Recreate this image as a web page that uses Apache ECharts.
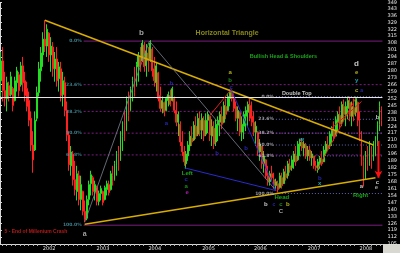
<!DOCTYPE html>
<html><head><meta charset="utf-8">
<script src="https://cdn.jsdelivr.net/npm/echarts/dist/echarts.min.js"></script>
<style>html,body{margin:0;padding:0;background:#000;overflow:hidden}#c{width:400px;height:253px}</style>
</head><body><div id="c"></div>
<script>
const yearLabels = ['2002','2003','2004','2005','2006','2007','2008'];
const yearIdx = [21,48,74,101,127,154,180];

const open = [270,290,260,252,265,256,262,250,268,276,
266,285,270,262,250,232,205,200,232,258,
280,296,312,305,318,296,304,282,292,272,
282,256,268,240,215,184,196,170,158,174,
150,158,138,131,150,166,172,158,162,148,
156,158,150,160,165,160,174,170,184,196,
190,214,225,220,250,240,260,270,265,284,
295,290,306,285,298,292,302,282,268,278,
255,242,248,240,250,255,250,252,240,228,
226,208,198,186,194,204,212,210,224,216,
230,220,230,216,230,234,214,222,208,225,
228,234,228,244,240,252,258,252,244,232,
238,218,224,234,238,245,234,228,218,218,
198,204,186,190,174,168,176,170,164,166,
162,172,166,176,174,184,182,188,194,190,
204,208,202,204,194,200,192,194,184,180,
186,190,188,198,205,204,214,220,214,228,
235,228,244,236,242,248,234,242,238,248,
232,212,188,170,190,186,200,190,204,210,
226,242];
const close = [290,260,252,268,255,274,245,270,280,260,
285,268,255,244,230,205,190,230,258,282,
298,312,305,322,296,305,282,292,270,284,
255,270,240,215,185,198,170,160,176,150,
165,138,130,150,165,175,158,165,148,156,
161,147,162,166,157,176,168,186,196,184,
215,226,212,250,235,262,270,258,286,296,
284,308,284,300,290,308,280,270,285,252,
242,250,238,252,256,246,262,240,228,236,
208,198,188,196,205,214,208,225,214,232,
220,232,214,230,236,215,224,206,226,230,
236,226,245,236,254,258,252,242,232,240,
218,226,236,240,246,232,228,218,224,198,
206,186,194,174,168,176,172,164,168,160,
174,164,178,172,186,180,190,196,188,206,
208,202,206,194,200,192,196,184,182,188,
192,186,200,206,202,216,220,212,230,236,
226,246,236,244,250,234,244,236,252,230,
214,190,168,192,184,202,188,204,210,226,
244,230];
const high = [299,304,279,274,269,279,264,274,284,279,
289,294,279,269,259,239,219,239,264,289,
304,319,331,327,319,314,309,299,304,289,
289,279,274,249,219,204,199,189,184,179,
174,159,149,154,169,179,174,169,164,159,
164,159,164,169,169,179,184,189,199,204,
219,229,239,254,259,264,274,284,289,299,
304,311,309,307,304,311,304,294,289,279,
264,254,249,254,259,261,264,254,249,239,
229,219,204,199,209,219,224,229,234,237,
239,237,234,237,239,234,231,229,231,234,
239,244,249,252,257,261,261,257,249,244,
239,234,239,244,249,252,249,239,229,219,
211,204,199,191,184,179,184,177,171,169,
177,177,181,184,189,191,194,199,204,209,
211,212,209,207,204,204,199,194,189,191,
194,199,204,209,214,219,224,229,234,239,
244,249,251,249,254,254,249,252,254,249,
239,219,194,199,204,209,204,209,214,229,
249,244];
const low = [254,249,244,239,249,254,239,249,259,254,
264,259,249,239,224,199,177,199,229,254,
269,284,299,294,289,279,274,269,264,259,
249,244,234,209,179,174,164,154,149,144,
139,134,127,129,144,154,154,149,144,144,
149,144,149,154,154,159,164,169,174,179,
189,199,209,219,229,239,249,254,264,269,
279,289,279,274,279,289,274,264,259,249,
239,237,234,239,244,244,249,237,224,214,
204,194,184,181,189,199,204,209,211,214,
214,211,209,214,217,209,204,201,204,209,
214,221,227,231,239,244,249,239,229,219,
214,209,211,219,224,229,224,214,204,194,
189,181,177,171,164,164,169,161,159,157,
161,161,167,169,171,177,179,181,184,189,
194,199,194,191,189,189,184,181,179,177,
181,184,189,194,199,201,204,209,214,219,
221,224,229,224,231,229,224,229,234,224,
209,184,163,174,179,184,181,189,194,204,
219,224];

const fibNames = ['0.0%','23.6%','38.2%','50.0%','61.8%','100.0%'];
const fib1Levels = [310,266,239,217,195,124];
const fib2Levels = [254,231,217,205,194,156];

// [x1, y1, x2, y2, color, width, type]
const trendLines = [
  [22.5,331,187.5,205,'#d8ac00',1.6,'solid'],
  [42.5,125,188.5,172,'#d8ac00',1.6,'solid'],
  [0,253,192,253,'#e8e8e8',1,'solid'],
  [42.5,127,75,310,'#7c8490',0.8,'solid'],
  [75,310,138.5,159,'#7c8490',0.8,'solid'],
  [92.5,182,138.5,159,'#2a2ad0',1,'solid'],
  [105,234,116,261,'#e02020',1,'solid'],
  [116,261,138.5,159,'#2a2ad0',1,'solid'],
  [159,179,178.5,252,'#e02020',1,'solid'],
  [166,221,181.5,249,'#e02020',1,'solid']
];

const notes = [
  [114,318,'Horizontal Triangle','#a8a820',7],
  [142.25,294,'Bullish Head & Shoulders','#22cc22',5.5],
  [149,257,'Double Top','#f0f0f0',5.5],
  [18,117,'5 - End of Millenium Crash','#e02020',5],
  [42.5,115,'a','#c8c8c8',7],
  [71,318,'b','#c8c8c8',8],
  [83.5,227,'a','#3030e0',6],
  [86,267,'b','#3030e0',6],
  [94,176,'Left','#22cc22',6],
  [93.5,170,'c','#3030e0',6],
  [93.5,163,'a','#22aa22',6],
  [94,157,'e','#d020d0',6],
  [115.5,278,'a','#d8d820',6],
  [115.5,270,'b','#22aa22',6],
  [116,263,'c','#3030e0',6],
  [109,197,'b','#3030e0',6],
  [123.5,202,'b','#3030e0',6],
  [179,287,'d','#f0f0f0',8],
  [179,278,'e','#d8d820',6],
  [179,270,'y','#20c8d8',6],
  [179,260,'c','#d8d820',6],
  [181.5,260,'a','#3030e0',5],
  [189.5,233,'b','#f0f0f0',6],
  [151.5,211,'w','#20c8d8',6],
  [160.5,171,'b','#3030e0',6],
  [160.5,166,'x','#20c8d8',6],
  [181.5,163,'a','#f0f0f0',6],
  [181,154,'Right','#22cc22',6],
  [189.5,167,'c','#f0f0f0',6],
  [189,162,'e','#c8c8c8',6],
  [141.5,152,'Head','#22cc22',6],
  [133.5,145,'b','#f0f0f0',6],
  [137.5,145,'c','#3030e0',5],
  [141,145,'c','#22aa22',6],
  [144.5,145,'b','#d8d820',6],
  [141,138,'C','#c8c8c8',6]
];

const arrow = [[190,209],[190,172]];

const cats = open.map((_, i) => i);
const candles = open.map((o, i) => [o, close[i], low[i], high[i]]);

const monthTicks = [];
const allYears = [yearIdx[0] - 26.5].concat(yearIdx, [yearIdx[yearIdx.length-1] + 26.5]);
for (let k = 0; k < allYears.length - 1; k++) {
  const a = allYears[k], b = allYears[k+1];
  for (let m = 1; m < 12; m++) {
    const v = a + (b - a) * m / 12;
    if (v > 0 && v < 192) monthTicks.push(v);
  }
}

const series = [{
  type: 'candlestick',
  xAxisIndex: 0, yAxisIndex: 0,
  data: candles,
  barWidth: '70%',
  itemStyle: {color: '#22dd22', color0: '#ff2020', borderColor: '#22dd22', borderColor0: '#ff2020', borderWidth: 1},
  silent: true, z: 2
}];

function seg(p, color, width, type, z) {
  series.push({type: 'line', xAxisIndex: 1, yAxisIndex: 0, data: p, symbol: 'none', silent: true,
    lineStyle: {color, width, type}, z: z || 3});
}
fib1Levels.forEach((v, i) => seg([[42, v], [192, v]], '#7c1c80', 1, (i === 0 || i === 5) ? 'solid' : [2, 2], 1));
fib2Levels.forEach((v, i) => seg([[138.5, v], [192, v]], '#6464b8', 1, [1, 2], 1));
trendLines.forEach(t => seg([[t[0], t[1]], [t[2], t[3]]], t[4], t[5], t[6], 4));

series.push({type: 'line', xAxisIndex: 1, yAxisIndex: 0, silent: true, z: 5,
  data: [{value: arrow[0], symbol: 'none'}, {value: arrow[1], symbol: 'arrow', symbolSize: [6, 7], symbolRotate: 180}],
  lineStyle: {color: '#ff1010', width: 2}, itemStyle: {color: '#ff1010'}});

const fibLabelData = [];
fib1Levels.forEach((v, i) => fibLabelData.push({value: [41.5, v], t: fibNames[i], c: '#4c9cac'}));
fib2Levels.forEach((v, i) => fibLabelData.push({value: [138, v], t: fibNames[i], c: '#c0c0d0'}));
series.push({type: 'scatter', xAxisIndex: 1, yAxisIndex: 0, symbolSize: 0, silent: true, z: 6,
  data: fibLabelData.map(d => ({value: d.value, t: d.t,
    label: {show: true, position: 'left', distance: 1, formatter: d.t, color: d.c, fontSize: 4.5,
      fontFamily: 'DejaVu Sans', fontWeight: 'bold'}}))});

series.push({type: 'scatter', xAxisIndex: 1, yAxisIndex: 0, symbolSize: 0, silent: true, z: 7,
  data: notes.map(n => ({value: [n[0], n[1]],
    label: {show: true, position: 'inside', formatter: n[2], color: n[3], fontSize: n[4],
      fontFamily: 'Liberation Sans', fontWeight: 'bold'}}))});

const chart = echarts.init(document.getElementById('c'), null, {renderer: 'canvas'});
chart.setOption({
  backgroundColor: '#000',
  animation: false,
  grid: {left: 0, right: 17, top: 0, bottom: 9, containLabel: false},
  xAxis: [{
    type: 'category', data: cats, boundaryGap: true,
    axisLine: {lineStyle: {color: '#d8d8d8', width: 1}},
    axisTick: {interval: (i) => yearIdx.includes(i), length: 4, lineStyle: {color: '#d8d8d8'}},
    axisLabel: {interval: (i) => yearIdx.includes(i), formatter: (v, i) => yearLabels[yearIdx.indexOf(i)] || '',
      color: '#e0e0e0', fontSize: 5, fontFamily: 'DejaVu Sans', align: 'left', margin: 2},
    splitLine: {show: false}
  }, {
    type: 'value', min: 0, max: 192, position: 'bottom',
    axisLine: {show: false},
    axisTick: {show: true, customValues: monthTicks, length: 2, lineStyle: {color: '#b8b8b8'}},
    axisLabel: {show: false}, splitLine: {show: false}
  }],
  yAxis: [{
    type: 'value', position: 'right', min: 105, max: 349, interval: 7,
    axisLine: {show: true, lineStyle: {color: '#d8d8d8'}},
    axisTick: {show: true, length: 2, lineStyle: {color: '#d8d8d8'}},
    axisLabel: {color: '#e8e8e8', fontSize: 5, fontFamily: 'DejaVu Sans', margin: 5},
    splitLine: {show: false}
  }],
  graphic: [{type: 'rect', right: 0, bottom: 0, shape: {width: 17, height: 9}, style: {fill: '#d8d8d0'}}],
  series: series
});
</script></body></html>
